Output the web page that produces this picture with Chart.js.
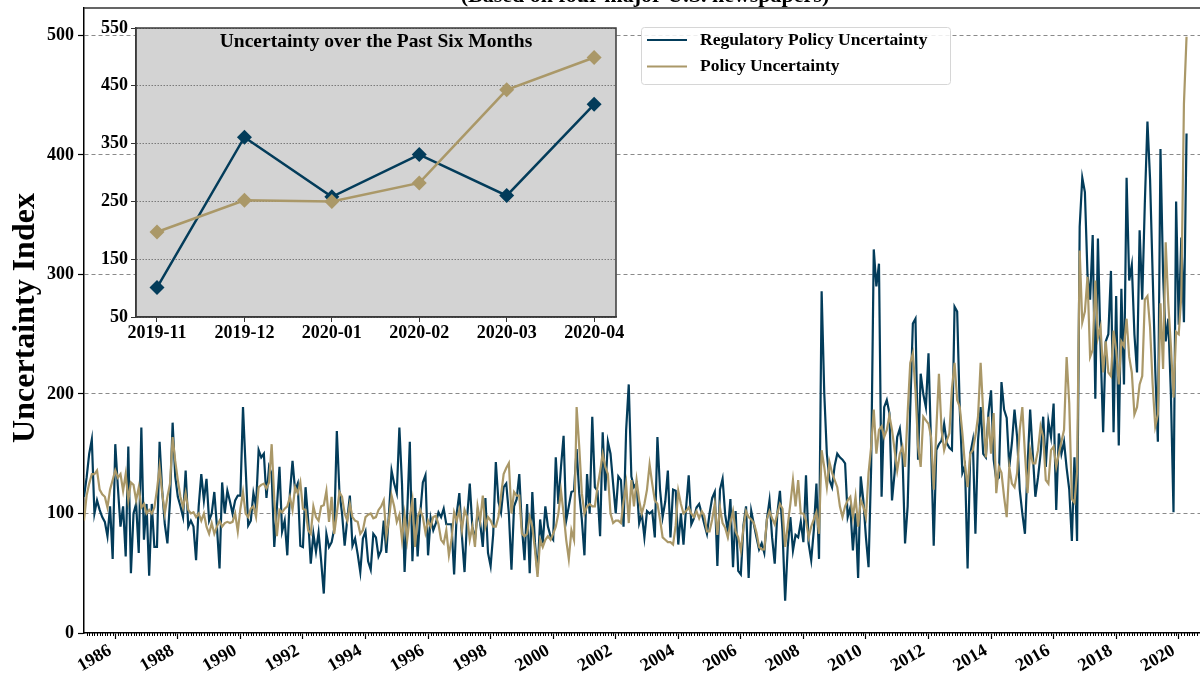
<!DOCTYPE html>
<html>
<head>
<meta charset="utf-8">
<script src="https://cdn.jsdelivr.net/npm/chart.js@4.4.1/dist/chart.umd.min.js"></script>
<style>
  html, body { margin: 0; padding: 0; background: #fff; overflow: hidden; }
  #wrap { position: relative; width: 1200px; height: 673px; overflow: hidden; }
  #mainChart { position: absolute; left: 0; top: 0; }
  #insetChart { position: absolute; left: 90px; top: 18px; }
</style>
</head>
<body>
<div id="wrap">
  <canvas id="mainChart" width="1225" height="673"></canvas>
  <canvas id="insetChart" width="545" height="335"></canvas>
</div>
<script>
// monthly values, Jan 1985 .. Apr 2020 (one row per year)
const startYear = 1985;

const regulatoryUncertainty = [
  114, 130, 150, 162, 100, 111, 103, 97, 93, 81, 106, 62,
  158, 122, 89, 106, 64, 156, 50, 100, 108, 67, 172, 78,
  108, 48, 108, 72, 72, 160, 119, 91, 75, 111, 176, 131,
  114, 106, 97, 136, 89, 94, 89, 61, 106, 133, 111, 129,
  94, 100, 118, 89, 54, 126, 100, 119, 110, 100, 111, 115,
  115, 189, 139, 90, 94, 117, 106, 153, 147, 150, 113, 139,
  133, 72, 105, 139, 85, 94, 65, 117, 144, 119, 125, 73,
  72, 122, 95, 58, 83, 68, 84, 60, 33, 83, 72, 76,
  87, 169, 118, 100, 73, 95, 115, 73, 79, 66, 51, 79,
  85, 60, 53, 83, 80, 64, 69, 94, 67, 100, 136, 125,
  117, 172, 125, 51, 100, 160, 60, 113, 64, 100, 126, 132,
  65, 96, 86, 92, 101, 97, 104, 91, 91, 91, 49, 100,
  117, 81, 51, 97, 125, 89, 78, 101, 92, 72, 113, 67,
  56, 83, 143, 110, 101, 122, 125, 100, 53, 106, 112, 133,
  89, 61, 108, 50, 118, 76, 50, 95, 75, 106, 89, 81,
  78, 147, 108, 139, 165, 94, 106, 118, 119, 154, 117, 95,
  65, 133, 100, 181, 122, 119, 81, 168, 119, 160, 150, 125,
  100, 131, 128, 89, 170, 208, 131, 122, 125, 92, 100, 80,
  102, 100, 102, 80, 164, 120, 97, 110, 136, 80, 120, 119,
  74, 100, 74, 105, 132, 91, 96, 105, 108, 100, 91, 83,
  100, 113, 118, 56, 120, 129, 99, 85, 112, 55, 102, 52,
  49, 90, 106, 46, 102, 91, 80, 70, 75, 67, 95, 111,
  80, 58, 100, 119, 85, 27, 72, 97, 69, 82, 80, 93,
  76, 132, 75, 61, 86, 125, 62, 286, 201, 150, 128, 122,
  140, 150, 147, 145, 142, 97, 105, 69, 100, 46, 131, 111,
  80, 55, 139, 321, 290, 309, 114, 189, 195, 184, 111, 134,
  164, 171, 150, 75, 106, 189, 259, 263, 145, 217, 200, 189,
  234, 156, 73, 153, 158, 161, 175, 159, 155, 153, 273, 269,
  187, 134, 140, 54, 150, 161, 83, 161, 189, 150, 147, 184,
  203, 145, 128, 130, 210, 187, 180, 139, 159, 187, 164, 120,
  100, 83, 140, 187, 150, 114, 130, 150, 181, 139, 177, 164,
  192, 103, 167, 150, 160, 138, 120, 77, 147, 77, 340, 381,
  369, 300, 279, 333, 196, 330, 240, 168, 244, 250, 303, 168,
  282, 157, 288, 208, 381, 295, 308, 250, 218, 337, 279, 360,
  428, 380, 300, 220, 160, 405, 300, 244, 263, 200, 101, 361,
  258, 331, 260, 418
];

const policyUncertainty = [
  94, 115, 125, 133, 133, 136, 120, 116, 114, 105, 120, 128,
  136, 130, 133, 119, 133, 111, 126, 124, 111, 122, 105, 108,
  100, 103, 100, 105, 120, 139, 117, 100, 114, 125, 164, 144,
  128, 114, 105, 117, 103, 100, 101, 97, 100, 94, 100, 89,
  83, 92, 83, 89, 94, 89, 92, 93, 92, 93, 100, 85,
  104, 118, 100, 97, 104, 106, 97, 122, 124, 125, 121, 126,
  158, 112, 81, 103, 101, 104, 106, 114, 103, 122, 117, 126,
  104, 103, 86, 83, 106, 97, 94, 106, 107, 119, 93, 114,
  83, 100, 118, 114, 100, 94, 108, 97, 94, 93, 83, 86,
  97, 99, 100, 96, 97, 103, 106, 111, 81, 95, 115, 106,
  93, 99, 78, 99, 78, 97, 111, 72, 97, 103, 97, 84,
  94, 89, 97, 98, 91, 78, 75, 86, 65, 78, 101, 94,
  103, 86, 103, 97, 78, 89, 72, 106, 94, 115, 89, 97,
  94, 89, 89, 97, 115, 133, 138, 142, 100, 118, 115, 115,
  83, 81, 83, 97, 89, 70, 47, 78, 72, 78, 81, 78,
  83, 89, 100, 119, 100, 78, 62, 86, 78, 189, 156, 117,
  100, 106, 108, 106, 106, 122, 135, 150, 139, 133, 100, 92,
  94, 94, 92, 110, 125, 92, 128, 106, 128, 111, 100, 108,
  120, 141, 125, 111, 108, 95, 80, 78, 76, 76, 74, 90,
  119, 108, 100, 102, 105, 100, 97, 102, 96, 102, 98, 85,
  85, 95, 108, 82, 105, 92, 88, 80, 92, 102, 85, 80,
  69, 88, 102, 97, 95, 92, 84, 72, 70, 70, 95, 102,
  96, 91, 100, 108, 104, 72, 90, 108, 128, 106, 128, 100,
  100, 94, 80, 89, 95, 101, 83, 153, 139, 122, 143, 134,
  128, 122, 106, 97, 106, 111, 114, 97, 114, 89, 111, 106,
  97, 134, 156, 187, 150, 170, 173, 164, 170, 182, 170, 153,
  136, 150, 156, 139, 184, 226, 234, 203, 156, 139, 181, 178,
  175, 164, 120, 170, 217, 170, 153, 161, 167, 205, 226, 195,
  189, 167, 140, 122, 150, 153, 165, 181, 226, 184, 147, 181,
  150, 184, 117, 139, 134, 114, 97, 139, 125, 122, 134, 170,
  189, 150, 117, 153, 142, 142, 153, 173, 164, 128, 125, 153,
  156, 139, 150, 160, 170, 231, 192, 112, 109, 135, 320, 260,
  269, 298, 231, 237, 295, 247, 256, 218, 244, 218, 215, 253,
  237, 208, 244, 240, 263, 231, 218, 183, 189, 208, 215, 279,
  282, 256, 208, 173, 183, 276, 221, 327, 276, 240, 197, 252,
  250, 282, 443, 499
];

const yearTicks = [1986, 1988, 1990, 1992, 1994, 1996, 1998, 2000, 2002,
  2004, 2006, 2008, 2010, 2012, 2014, 2016, 2018, 2020];
const mainYTicks = [0, 100, 200, 300, 400, 500];

const insetMonths = ['2019-11', '2019-12', '2020-01', '2020-02', '2020-03', '2020-04'];
const insetYTicks = [50, 150, 250, 350, 450, 550];
const insetRegulatory = regulatoryUncertainty.slice(-6);
const insetPolicy = policyUncertainty.slice(-6);

const NAVY = '#033C5A';
const GOLD = '#AA9868';
const SERIF = '"Liberation Serif", "Times New Roman", serif';

const toPoints = values => values.map((v, i) => ({ x: startYear + i / 12, y: v }));

// keep the plot box where the reference has it (no label padding on top)
const fitY = width => s => {
  s.width = width;
  s.paddingTop = 0;
  s.paddingBottom = 0;
};

// title is cropped at the top of the picture, only its lower part shows
const topTitle = {
  id: 'topTitle',
  afterDraw(chart) {
    const { ctx } = chart;
    ctx.save();
    ctx.font = `bold 22px ${SERIF}`;
    ctx.fillStyle = '#000';
    ctx.textAlign = 'center';
    ctx.textBaseline = 'alphabetic';
    ctx.fillText('(Based on four major U.S. newspapers)', 645, 1.5);
    ctx.restore();
  }
};

const yTitle = {
  id: 'yTitle',
  afterDraw(chart) {
    const { ctx } = chart;
    ctx.save();
    ctx.translate(26, 318);
    ctx.rotate(-Math.PI / 2);
    ctx.font = `bold 32px ${SERIF}`;
    ctx.fillStyle = '#000';
    ctx.textAlign = 'center';
    ctx.textBaseline = 'middle';
    ctx.fillText('Uncertainty Index', 0, 0);
    ctx.restore();
  }
};

// monthly minor ticks + top spine
const axisExtras = {
  id: 'axisExtras',
  afterDraw(chart) {
    const { ctx, chartArea } = chart;
    const x = chart.scales.x;
    ctx.save();
    ctx.strokeStyle = '#000';
    ctx.lineWidth = 1;
    for (let m = 1; m < (x.max - x.min) * 12; m++) {
      if (m % 24 === 12) continue;
      const px = Math.round(x.getPixelForValue(x.min + m / 12)) + 0.5;
      ctx.beginPath();
      ctx.moveTo(px, chartArea.bottom);
      ctx.lineTo(px, chartArea.bottom + 3);
      ctx.stroke();
    }
    ctx.strokeStyle = '#333';
    ctx.lineWidth = 1.3;
    ctx.beginPath();
    ctx.moveTo(chartArea.left, chartArea.top);
    ctx.lineTo(chartArea.right, chartArea.top);
    ctx.lineTo(chartArea.right, chartArea.bottom);
    ctx.stroke();
    ctx.restore();
  }
};

const boxLegend = {
  id: 'boxLegend',
  afterDraw(chart) {
    const { ctx } = chart;
    const left = 641, top = 27, w = 309, h = 57;
    ctx.save();
    ctx.fillStyle = 'rgba(255,255,255,0.85)';
    ctx.strokeStyle = '#d6d6d6';
    ctx.lineWidth = 1;
    ctx.beginPath();
    ctx.roundRect(left + 0.5, top + 0.5, w, h, 3);
    ctx.fill();
    ctx.stroke();
    ctx.font = `bold 17.5px ${SERIF}`;
    ctx.textBaseline = 'middle';
    ctx.fillStyle = '#000';
    chart.data.datasets.forEach((ds, i) => {
      const y = 40 + i * 26.5;
      ctx.strokeStyle = ds.borderColor;
      ctx.lineWidth = 2.2;
      ctx.beginPath();
      ctx.moveTo(647, y);
      ctx.lineTo(687, y);
      ctx.stroke();
      ctx.fillText(ds.label, 700, y);
    });
    ctx.restore();
  }
};

new Chart(document.getElementById('mainChart'), {
  type: 'line',
  data: {
    datasets: [
      { label: 'Regulatory Policy Uncertainty', data: toPoints(regulatoryUncertainty),
        borderColor: NAVY, borderWidth: 2.2, pointRadius: 0, tension: 0, order: 1 },
      { label: 'Policy Uncertainty', data: toPoints(policyUncertainty),
        borderColor: GOLD, borderWidth: 2.2, pointRadius: 0, tension: 0, order: 0 }
    ]
  },
  options: {
    responsive: false,
    animation: false,
    events: [],
    layout: { padding: { top: 8, right: 15, left: 0, bottom: 0 } },
    plugins: { legend: { display: false }, tooltip: { enabled: false } },
    scales: {
      x: {
        type: 'linear',
        min: 1985,
        max: 2021,
        afterBuildTicks: s => { s.ticks = yearTicks.map(v => ({ value: v })); },
        afterFit: s => { s.height = 40; },
        ticks: {
          callback: v => String(v),
          autoSkip: false,
          minRotation: 30,
          maxRotation: 30,
          padding: 1,
          labelOffset: -5,
          color: '#000',
          font: { family: SERIF, weight: 'bold', size: 18 }
        },
        grid: { drawOnChartArea: false, tickLength: 6, tickColor: '#000', tickWidth: 1.2 },
        border: { color: '#000', width: 1.5 }
      },
      y: {
        min: 0,
        max: 523,
        afterBuildTicks: s => { s.ticks = mainYTicks.map(v => ({ value: v })); },
        afterFit: fitY(84),
        ticks: {
          padding: 4,
          color: '#000',
          font: { family: SERIF, weight: 'bold', size: 18 }
        },
        grid: {
          color: c => (c.tick && c.tick.value === 0 ? 'rgba(0,0,0,0)' : '#8a8a8a'),
          lineWidth: 1,
          tickLength: 6,
          tickColor: '#000',
          tickWidth: 1.2
        },
        border: { color: '#000', width: 1.5, dash: [4, 3] }
      }
    }
  },
  plugins: [topTitle, yTitle, axisExtras, boxLegend]
});

// inset: last six months
const insetPanel = {
  id: 'insetPanel',
  beforeDraw(chart) {
    const { ctx, chartArea: a } = chart;
    ctx.save();
    ctx.fillStyle = '#d3d3d3';
    ctx.fillRect(a.left, a.top, a.right - a.left, a.bottom - a.top);
    ctx.restore();
  },
  afterDraw(chart) {
    const { ctx, chartArea: a } = chart;
    ctx.save();
    ctx.strokeStyle = '#3a3a3a';
    ctx.lineWidth = 1.5;
    ctx.strokeRect(a.left, a.top, a.right - a.left, a.bottom - a.top);
    ctx.font = `bold 19.5px ${SERIF}`;
    ctx.fillStyle = '#000';
    ctx.textAlign = 'center';
    ctx.textBaseline = 'middle';
    ctx.fillText('Uncertainty over the Past Six Months', (a.left + a.right) / 2, a.top + 14);
    ctx.restore();
  }
};

new Chart(document.getElementById('insetChart'), {
  type: 'line',
  data: {
    datasets: [
      { label: 'Regulatory Policy Uncertainty', data: insetRegulatory.map((v, i) => ({ x: i, y: v })),
        borderColor: NAVY, backgroundColor: NAVY, borderWidth: 2.5, tension: 0,
        pointStyle: 'rectRot', pointRadius: 7.5, pointBorderWidth: 0, order: 1 },
      { label: 'Policy Uncertainty', data: insetPolicy.map((v, i) => ({ x: i, y: v })),
        borderColor: GOLD, backgroundColor: GOLD, borderWidth: 2.5, tension: 0,
        pointStyle: 'rectRot', pointRadius: 7.5, pointBorderWidth: 0, order: 0 }
    ]
  },
  options: {
    responsive: false,
    animation: false,
    events: [],
    layout: { padding: { top: 10, right: 19, left: 0, bottom: 0 } },
    plugins: { legend: { display: false }, tooltip: { enabled: false } },
    scales: {
      x: {
        type: 'linear',
        min: -0.24,
        max: 5.25,
        afterBuildTicks: s => { s.ticks = insetMonths.map((_, i) => ({ value: i })); },
        afterFit: s => { s.height = 36; },
        ticks: {
          callback: v => insetMonths[v],
          autoSkip: false,
          maxRotation: 0,
          padding: 1,
          color: '#000',
          font: { family: SERIF, weight: 'bold', size: 18 }
        },
        grid: { drawOnChartArea: false, tickLength: 5, tickColor: '#333' },
        border: { color: '#3a3a3a', width: 1.5 }
      },
      y: {
        min: 50,
        max: 550,
        afterBuildTicks: s => { s.ticks = insetYTicks.map(v => ({ value: v })); },
        afterFit: fitY(46),
        ticks: {
          padding: 3,
          color: '#000',
          font: { family: SERIF, weight: 'bold', size: 18 }
        },
        grid: { color: '#7a7a7a', lineWidth: 1, tickLength: 5, tickColor: '#333' },
        border: { color: '#3a3a3a', width: 1.5, dash: [1.5, 1.5] }
      }
    }
  },
  plugins: [insetPanel]
});
</script>
</body>
</html>
